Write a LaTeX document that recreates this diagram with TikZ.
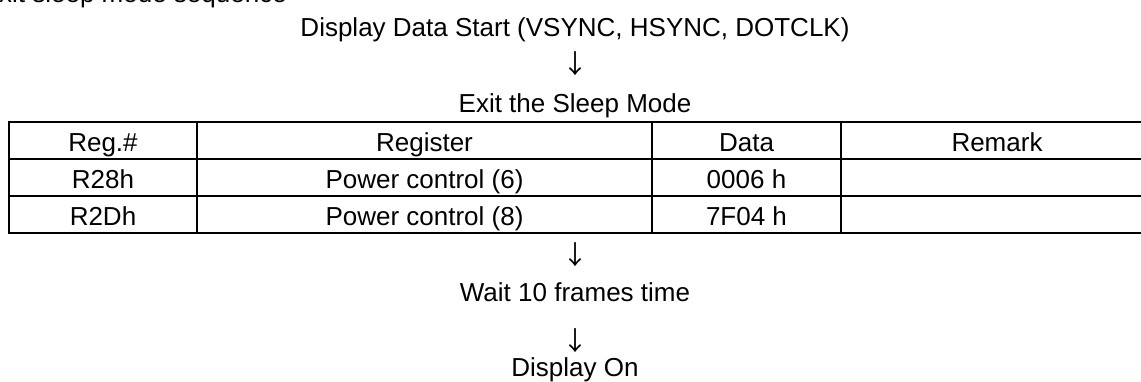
\documentclass[tikz,border=0pt]{standalone}
\usepackage{fontspec}
\setmainfont{Liberation Sans}
\newfontfamily\arrowfont{Noto Sans CJK JP}
\begin{document}
\begin{tikzpicture}[x=1pt,y=-1pt,
  txt/.style={anchor=base,inner sep=0pt,font=\fontsize{26}{30}\selectfont},
  arr/.style={anchor=center,inner sep=0pt,font=\arrowfont\fontsize{26}{30}\selectfont},
  grid/.style={line width=1.8pt,line cap=rect}]
\useasboundingbox (0,0) rectangle (1141,381);
\clip (0,0) rectangle (1141,381);
% partially visible title (cut off at the top edge, as in the reference)
\node[txt,anchor=base east] (title) at (287,2) {Exit sleep mode sequence};
% flow
\node[txt] (start) at (575,36) {Display Data Start (VSYNC, HSYNC, DOTCLK)};
\node[arr] (a1) at (575,64) {↓};
\node[txt] (exit) at (575,112) {Exit the Sleep Mode};
% table
\draw[grid] (9,122) rectangle (1153,233);
\draw[grid] (9,159) -- (1153,159);
\draw[grid] (9,196) -- (1153,196);
\draw[grid] (197,122) -- (197,233);
\draw[grid] (652,122) -- (652,233);
\draw[grid] (841,122) -- (841,233);
\node[txt] (h1) at (103,151) {Reg.\#};
\node[txt] (h2) at (424.5,151) {Register};
\node[txt] (h3) at (746.5,151) {Data};
\node[txt] (h4) at (997,151) {Remark};
\node[txt] (r1a) at (103,188) {R28h};
\node[txt] (r1b) at (424.5,188) {Power control (6)};
\node[txt] (r1c) at (746.5,188) {0006 h};
\node[txt] (r2a) at (103,225) {R2Dh};
\node[txt] (r2b) at (424.5,225) {Power control (8)};
\node[txt] (r2c) at (746.5,225) {7F04 h};
\node[arr] (a2) at (575,255) {↓};
\node[txt] (wait) at (575,301) {Wait 10 frames time};
\node[arr] (a3) at (575,341) {↓};
\node[txt] (on) at (575,376) {Display On};
\end{tikzpicture}
\end{document}
